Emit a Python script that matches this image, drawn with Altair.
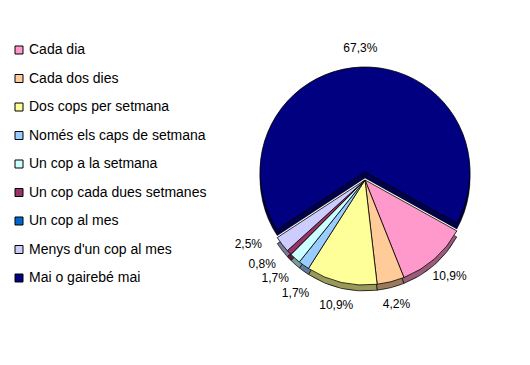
import math
import altair as alt
import pandas as pd

categories = [
    "Cada dia",
    "Cada dos dies",
    "Dos cops per setmana",
    "Només els caps de setmana",
    "Un cop a la setmana",
    "Un cop cada dues setmanes",
    "Un cop al mes",
    "Menys d'un cop al mes",
    "Mai o gairebé mai",
]
values = [10.9, 4.2, 10.9, 1.7, 1.7, 0.8, 0.0, 2.5, 67.3]
labels = ["10,9%", "4,2%", "10,9%", "1,7%", "1,7%", "0,8%", "", "2,5%", "67,3%"]

colors = ["#FF99CC", "#FFCC99", "#FFFF99", "#99CCFF", "#CCFFFF",
          "#993366", "#0066CC", "#CCCCFF", "#000080"]

df = pd.DataFrame({
    "cat": categories,
    "value": values,
    "label": labels,
    "order": list(range(len(categories))),
})

a0 = math.radians(119)
theta_scale = alt.Scale(domain=[0, 100], range=[a0, a0 + 2 * math.pi])
color_scale = alt.Scale(domain=categories, range=colors)

CX = 357
CY_OTHERS = 172
CY_MAI = 164
R = 105
DEPTH = 6

base = (
    alt.Chart(df)
    .transform_window(cum="sum(value)", sort=[{"field": "order"}], frame=[None, 0])
    .transform_calculate(start="datum.cum - datum.value",
                         mid="datum.cum - datum.value / 2")
    .transform_filter("datum.value > 0")
    # spread the labels of the thin slices apart so they don't collide
    .transform_calculate(labmid="datum.value < 3 ? datum.mid + 0.8 * (datum.mid - 28.3) : datum.mid")
)

legend = alt.Legend(
    title=None,
    orient="none",
    legendX=4,
    legendY=35,
    symbolType="square",
    symbolSize=64,
    symbolStrokeColor="black",
    symbolStrokeWidth=1,
    symbolOpacity=1,
    labelFont="Liberation Sans",
    labelFontSize=14,
    labelColor="black",
    labelOffset=3,
    labelLimit=0,
    rowPadding=14.5,
)


def arcs(filter_expr, cy):
    sub = base.transform_filter(filter_expr)
    th = alt.Theta("start:Q", scale=theta_scale)
    th2 = alt.Theta2("cum:Q")
    side_black = sub.mark_arc(radius=R, color="black").encode(
        theta=th, theta2=th2, x=alt.value(CX), y=alt.value(cy + DEPTH))
    side_col = sub.mark_arc(radius=R, opacity=0.6, stroke="black", strokeWidth=0.8).encode(
        theta=th, theta2=th2, x=alt.value(CX), y=alt.value(cy + DEPTH),
        color=alt.Color("cat:N", scale=color_scale, legend=legend))
    top = sub.mark_arc(radius=R, stroke="black", strokeWidth=0.8).encode(
        theta=th, theta2=th2, x=alt.value(CX), y=alt.value(cy),
        color=alt.Color("cat:N", scale=color_scale, legend=legend))
    return [side_black, side_col, top]


def texts(filter_expr, cy, radius):
    sub = base.transform_filter(filter_expr)
    return sub.mark_text(radius=radius, font="Liberation Sans", fontSize=12,
                         color="black", baseline="middle").encode(
        theta=alt.Theta("labmid:Q", scale=theta_scale),
        text="label:N", x=alt.value(CX), y=alt.value(cy))


MAI = "datum.cat == 'Mai o gairebé mai'"
OTH = "datum.cat != 'Mai o gairebé mai'"

layers = (
    arcs(MAI, CY_MAI)
    + arcs(OTH, CY_OTHERS)
    + [
        texts(MAI, CY_MAI, 124),
        texts(OTH + " && datum.value >= 3", CY_OTHERS, 128),
        texts(OTH + " && datum.value < 3", CY_OTHERS, 133),
    ]
)

chart = alt.layer(*layers).properties(
    width=514, height=349,
    autosize=alt.AutoSizeParams(type="none"),
    padding=0,
    background="white",
).configure_view(stroke=None)

chart.save("out.html", embed_options={"renderer": "svg", "actions": False})
